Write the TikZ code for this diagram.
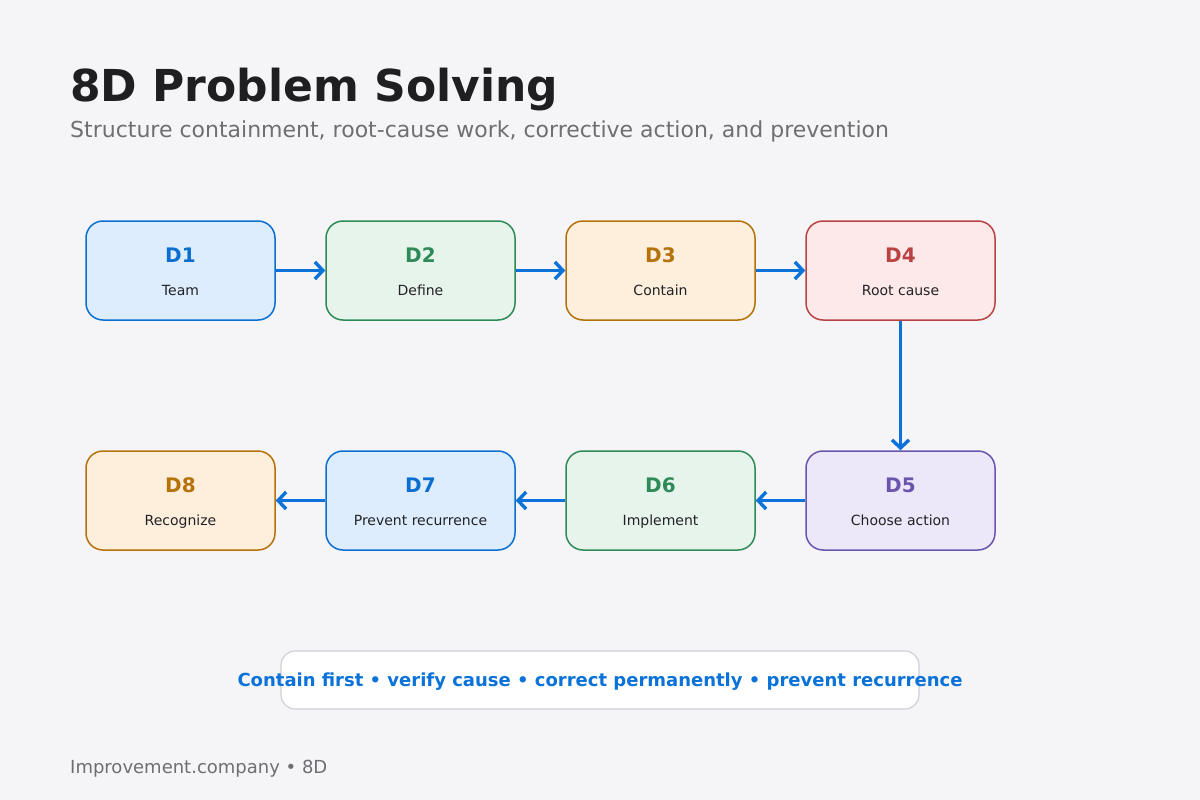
\documentclass[tikz,border=0pt]{standalone}
\usepackage{fontspec}
\setmainfont{DejaVu Sans}
\usetikzlibrary{arrows.meta}
\definecolor{bg}{HTML}{F5F5F8}
\definecolor{titlec}{HTML}{1F1F22}
\definecolor{subc}{HTML}{6E6E73}
\definecolor{arrowc}{HTML}{0A72D8}
\definecolor{bluS}{HTML}{0A6FD0}\definecolor{bluF}{HTML}{DDEDFD}
\definecolor{grnS}{HTML}{2E8A57}\definecolor{grnF}{HTML}{E7F4EC}
\definecolor{orgS}{HTML}{B5720A}\definecolor{orgF}{HTML}{FDEFDB}
\definecolor{redS}{HTML}{B94343}\definecolor{redF}{HTML}{FDE9E9}
\definecolor{purS}{HTML}{6A55AE}\definecolor{purF}{HTML}{EDE8F9}
\definecolor{bodyc}{HTML}{222226}
\definecolor{noteS}{HTML}{CFCFD4}
\tikzset{
  stepbox/.style={draw=#1S, fill=#1F, line width=1.5pt, rounded corners=17pt,
    minimum width=189pt, minimum height=99pt, inner sep=0pt},
  dlabel/.style={font=\bfseries\fontsize{20}{24}\selectfont, anchor=base, inner sep=0pt},
  sublabel/.style={font=\fontsize{14}{17}\selectfont, text=bodyc, anchor=base, inner sep=0pt},
  flow/.style={draw=arrowc, line width=3.5pt, -{Straight Barb[length=8pt,width=17pt,line width=3.4pt]}}
}
\begin{document}
\begin{tikzpicture}[x=1pt,y=-1pt]
\useasboundingbox (0,0) rectangle (1200,800);
\fill[bg] (0,0) rectangle (1200,800);
\node[anchor=base west, inner sep=0pt, text=titlec, font=\bfseries\fontsize{44}{50}\selectfont] (title) at (70,101) {8D Problem Solving};
\node[anchor=base west, inner sep=0pt, text=subc, font=\fontsize{22}{26}\selectfont] (sub) at (70,137) {Structure containment, root-cause work, corrective action, and prevention};
% row 1
\node[stepbox=blu] (d1) at (180.5,270.5) {};
\node[stepbox=grn] (d2) at (420.5,270.5) {};
\node[stepbox=org] (d3) at (660.5,270.5) {};
\node[stepbox=red] (d4) at (900.5,270.5) {};
% row 2
\node[stepbox=pur] (d5) at (900.5,500.5) {};
\node[stepbox=grn] (d6) at (660.5,500.5) {};
\node[stepbox=blu] (d7) at (420.5,500.5) {};
\node[stepbox=org] (d8) at (180.5,500.5) {};
% labels
\foreach \n/\t/\s/\c in {d1/D1/Team/bluS, d2/D2/Define/grnS, d3/D3/Contain/orgS, d4/D4/Root cause/redS, d5/D5/Choose action/purS, d6/D6/Implement/grnS, d7/D7/Prevent recurrence/bluS, d8/D8/Recognize/orgS}{
  \node[dlabel, text=\c] (\n t) at ([yshift=8.3pt]\n.center) {\t};
  \node[sublabel] (\n s) at ([yshift=-25pt]\n.center) {\s};
}
% arrows
\draw[flow] (d1.east) -- (d2.west);
\draw[flow] (d2.east) -- (d3.west);
\draw[flow] (d3.east) -- (d4.west);
\draw[flow] (d4.south) -- (d5.north);
\draw[flow] (d5.west) -- (d6.east);
\draw[flow] (d6.west) -- (d7.east);
\draw[flow] (d7.west) -- (d8.east);
% note
\node[draw=noteS, fill=white, line width=1.2pt, rounded corners=14pt, minimum width=638pt, minimum height=58pt, inner sep=0pt] (note) at (600,680) {};
\node[text=arrowc, font=\bfseries\fontsize{18}{21}\selectfont, anchor=base, inner sep=0pt] (notet) at (600,686.5) {Contain first • verify cause • correct permanently • prevent recurrence};
% footer
\node[anchor=base west, inner sep=0pt, text=subc, font=\fontsize{18}{21}\selectfont] (foot) at (70,773) {Improvement.company • 8D};
\end{tikzpicture}
\end{document}
